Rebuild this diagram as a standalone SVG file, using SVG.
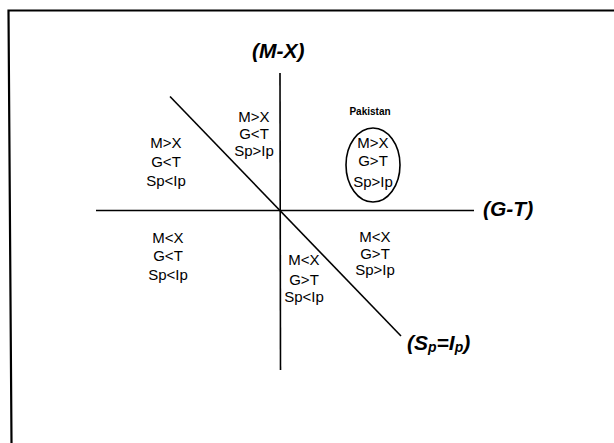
<svg xmlns="http://www.w3.org/2000/svg" width="614" height="443" viewBox="0 0 614 443">
<style>
.ln{stroke:#000;fill:none;stroke-width:1.6}
.q{font-family:"Liberation Sans",Arial,sans-serif;font-size:15px;text-anchor:middle;fill:#000}
.ax{font-family:"Liberation Sans",Arial,sans-serif;font-size:21px;font-weight:bold;font-style:italic;fill:#000}
.pk{font-family:"Liberation Sans",Arial,sans-serif;font-size:10px;font-weight:bold;text-anchor:middle;fill:#000}
</style>
<rect width="614" height="443" fill="#fff"/>
<path d="M614 10.5 L8.5 10.5 L11.5 443" fill="none" stroke="#000" stroke-width="2.2"/>
<g id="connectors">
<line class="ln" x1="96" y1="210.5" x2="474" y2="210.5"/>
<line class="ln" x1="280" y1="73" x2="280.5" y2="370"/>
<line class="ln" x1="170" y1="96.5" x2="401" y2="336"/>
</g>
<g id="axis-mx"><text class="ax" x="252" y="58">(M-X)</text></g>
<g id="axis-gt"><text class="ax" x="483" y="216">(G-T)</text></g>
<g id="axis-sp"><text class="ax" x="407" y="350">(S<tspan font-size="14" dy="2">p</tspan><tspan dy="-2">=I</tspan><tspan font-size="14" dy="2">p</tspan><tspan dy="-2">)</tspan></text></g>
<g id="q-ul-left"><text class="q" x="166" y="148">M&gt;X</text><text class="q" x="166" y="167">G&lt;T</text><text class="q" x="166" y="186">Sp&lt;Ip</text></g>
<g id="q-ul-right"><text class="q" x="254" y="122">M&gt;X</text><text class="q" x="254" y="139">G&lt;T</text><text class="q" x="254" y="156">Sp&gt;Ip</text></g>
<g id="pakistan">
<text class="pk" x="370" y="115">Pakistan</text>
<ellipse class="ln" cx="373" cy="165" rx="27" ry="37"/>
<text class="q" x="373" y="148">M&gt;X</text><text class="q" x="373" y="166">G&gt;T</text><text class="q" x="373" y="187">Sp&gt;Ip</text>
</g>
<g id="q-ll"><text class="q" x="168" y="243">M&lt;X</text><text class="q" x="168" y="261">G&lt;T</text><text class="q" x="168" y="280">Sp&lt;Ip</text></g>
<g id="q-lm"><text class="q" x="304" y="265">M&lt;X</text><text class="q" x="304" y="285">G&gt;T</text><text class="q" x="304" y="302">Sp&lt;Ip</text></g>
<g id="q-lr"><text class="q" x="375" y="242">M&lt;X</text><text class="q" x="375" y="259">G&gt;T</text><text class="q" x="375" y="275">Sp&gt;Ip</text></g>
</svg>
